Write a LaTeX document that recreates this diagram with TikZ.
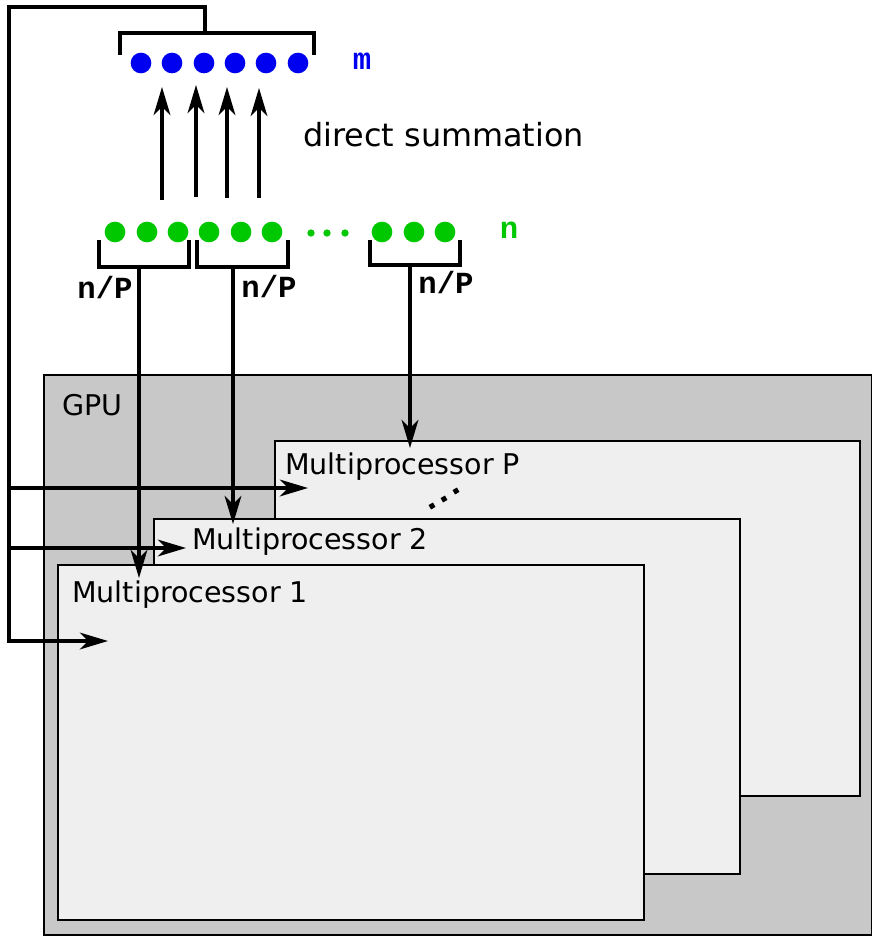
\documentclass[tikz,border=0pt]{standalone}
\usepackage{fontspec}
\setmainfont{DejaVu Sans}
\newfontfamily\codefont{Liberation Mono}
\usetikzlibrary{arrows.meta,positioning}
\definecolor{gpugray}{RGB}{200,200,200}
\definecolor{mpgray}{RGB}{239,239,239}
\definecolor{mblue}{RGB}{0,0,240}
\definecolor{ngreen}{RGB}{0,200,0}

\begin{document}
\begin{tikzpicture}[x=0.75pt,y=0.75pt,yscale=-1,xscale=1,
    wire/.style={line width=2.6pt},
    feed/.style={line width=2.6pt,-{Stealth[length=21pt,width=12.5pt,inset=6pt]}},
    bdot/.style={circle,fill=mblue,inner sep=0pt,minimum size=15.5pt},
    gdot/.style={circle,fill=ngreen,inner sep=0pt,minimum size=15.5pt},
    sdot/.style={circle,fill=ngreen,inner sep=0pt,minimum size=5.5pt},
    kdot/.style={rectangle,rotate=30,fill=black,inner sep=0pt,minimum size=3.8pt},
    mpbox/.style={draw,fill=mpgray,line width=0.85pt},
    lbl/.style={inner sep=0pt,font=\fontsize{21.4}{24}\selectfont},
    code/.style={inner sep=0pt,font=\codefont\bfseries\fontsize{23}{26}\selectfont}]
        \useasboundingbox (0,0) rectangle (872,936);
        %Shape: GPU
        \draw[fill=gpugray,line width=0.85pt] (44,375) rectangle (871.6,935);
        \node[lbl,anchor=west] (gpu) at (62,405) {GPU};
        %Shape: Multiprocessor boxes
        \draw[mpbox] (275,441) rectangle (860,796);
        \draw[mpbox] (154,519) rectangle (740,874);
        \draw[mpbox] (58,565) rectangle (644,920);
        % Text Node
        \node[lbl,anchor=west] (mpP) at (285,467) {Multiprocessor P};
        \node[lbl,anchor=west] (mp2) at (192,542) {Multiprocessor 2};
        \node[lbl,anchor=west] (mp1) at (72,595) {Multiprocessor 1};
        \node[kdot] (k1) at (432,506) {};
        \node[kdot] (k2) at (444,499) {};
        \node[kdot] (k3) at (456,491) {};
        %m targets
        \foreach \x [count=\i] in {141,172,204,235,266,298}
            \node[bdot] (m\i) at (\x,63) {};
        \node[code,text=mblue] (mlbl) at (362,61) {m};
        \draw[wire] (120,55) -- (120,33) -- (314,33) -- (314,55);
        \coordinate (mbrk) at (205,33);
        %n sources
        \foreach \x [count=\i] in {115,147,178,209,241,272,382,414,445}
            \node[gdot] (n\i) at (\x,232) {};
        \foreach \x [count=\i] in {311,327,345}
            \node[sdot] (s\i) at (\x,233) {};
        \node[code,text=ngreen] (nlbl) at (509,230) {n};
        %direct summation
        \foreach \x/\y [count=\i] in {162/200,196/197,227/198,259/198}
            \coordinate (up\i) at (\x,\y);
        \foreach \x/\y [count=\i] in {162/87,196/85,227/87,259/88}
            \coordinate (hd\i) at (\x,\y);
        \foreach \i in {1,...,4}
            \draw[feed] (up\i) -- (hd\i);
        \node[lbl,anchor=west,font=\fontsize{23.9}{26}\selectfont] (dsum) at (303,135) {direct summation};
        %brackets n/P
        \draw[wire] (99,240) -- (99,267) -- (189,267) -- (189,240);
        \draw[wire] (197,240) -- (197,267) -- (288,267) -- (288,240);
        \draw[wire] (370,240) -- (370,265) -- (460,265) -- (460,240);
        \coordinate (b1) at (139,267);
        \coordinate (b2) at (233,267);
        \coordinate (b3) at (410,265);
        \node[code] (np1) at (105,288) {n/P};
        \node[code] (np2) at (269,287) {n/P};
        \node[code] (np3) at (446,283) {n/P};
        \coordinate (in1) at (108,641);
        \coordinate (in2) at (186,548);
        \coordinate (inP) at (308,488);
        \draw[feed] (b1) -- (b1 |- 0,578);
        \draw[feed] (b2) -- (b2 |- 0,524);
        \draw[feed] (b3) -- (b3 |- 0,448);
        %feedback of m
        \coordinate (corner) at (9,7);
        \draw[feed] (mbrk) |- (corner) |- (in1);
        \draw[feed] (corner |- in2) -- (in2);
        \draw[feed] (corner |- inP) -- (inP);
\end{tikzpicture}
\end{document}
